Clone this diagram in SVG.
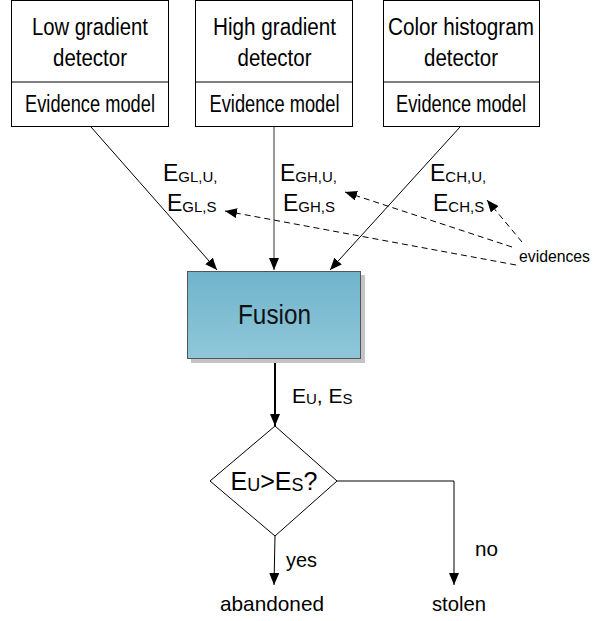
<svg xmlns="http://www.w3.org/2000/svg" width="595" height="621" viewBox="0 0 595 621">
<style>
text{font-family:"Liberation Sans",Arial,sans-serif;fill:#000}
.t{font-size:23px;text-anchor:middle}
.e{font-size:23px}
.s{font-size:15px}
.sm{font-size:21px}
.box{fill:#fff;stroke:#000;stroke-width:1}
.ln{fill:none;stroke:#000;stroke-width:1}
.dash{fill:none;stroke:#000;stroke-width:1;stroke-dasharray:6,4}
</style>
<defs>
<marker id="ah" viewBox="0 0 12 10" refX="12" refY="5" markerWidth="12" markerHeight="10" markerUnits="userSpaceOnUse" orient="auto">
<path d="M0,0 L12,5 L0,10 Z" fill="#000"/>
</marker>
<linearGradient id="fg" x1="0" y1="0" x2="0" y2="1">
<stop offset="0" stop-color="#70b4cb"/>
<stop offset="1" stop-color="#8fc7d9"/>
</linearGradient>
</defs>

<g id="connectors">
<line class="ln" x1="91" y1="127" x2="217" y2="270" marker-end="url(#ah)"/>
<line class="ln" x1="274" y1="127" x2="274" y2="270" style="stroke:#777;stroke-width:1.5" marker-end="url(#ah)"/>
<line class="ln" x1="460" y1="127" x2="330" y2="270" marker-end="url(#ah)"/>
<line class="dash" x1="516" y1="265" x2="225" y2="211" marker-end="url(#ah)"/>
<line class="dash" x1="512" y1="247" x2="345" y2="192" marker-end="url(#ah)"/>
<line class="dash" x1="522" y1="242" x2="487" y2="200" marker-end="url(#ah)"/>
<line class="ln" style="stroke-width:2" x1="275" y1="359" x2="275" y2="426" marker-end="url(#ah)"/>
<line class="ln" x1="275" y1="536" x2="274" y2="585" marker-end="url(#ah)"/>
<polyline class="ln" points="337,481 454,481 454,585" marker-end="url(#ah)"/>
</g>

<g id="low-gradient">
<rect class="box" x="11.5" y="0.5" width="157" height="126"/>
<line class="ln" x1="11.5" y1="82" x2="168.5" y2="82"/>
<text class="t" x="90" y="35" textLength="116" lengthAdjust="spacingAndGlyphs">Low gradient</text>
<text class="t" x="90" y="66" textLength="74" lengthAdjust="spacingAndGlyphs">detector</text>
<text class="t" x="90" y="112" textLength="130" lengthAdjust="spacingAndGlyphs">Evidence model</text>
</g>

<g id="high-gradient">
<rect class="box" x="195.5" y="0.5" width="157" height="126"/>
<line class="ln" x1="195.5" y1="82" x2="352.5" y2="82"/>
<text class="t" x="274.5" y="35" textLength="123" lengthAdjust="spacingAndGlyphs">High gradient</text>
<text class="t" x="274.5" y="66" textLength="74" lengthAdjust="spacingAndGlyphs">detector</text>
<text class="t" x="274.5" y="112" textLength="130" lengthAdjust="spacingAndGlyphs">Evidence model</text>
</g>

<g id="color-histogram">
<rect class="box" x="383.5" y="0.5" width="156" height="126"/>
<line class="ln" x1="383.5" y1="82" x2="539.5" y2="82"/>
<text class="t" x="461" y="35" textLength="146" lengthAdjust="spacingAndGlyphs">Color histogram</text>
<text class="t" x="461" y="66" textLength="74" lengthAdjust="spacingAndGlyphs">detector</text>
<text class="t" x="461" y="112" textLength="130" lengthAdjust="spacingAndGlyphs">Evidence model</text>
</g>

<g id="labels">
<text x="163" y="181"><tspan class="e">E</tspan><tspan class="s" dy="1">GL,U,</tspan></text>
<text x="167" y="211"><tspan class="e">E</tspan><tspan class="s" dy="1">GL,S</tspan></text>
<text x="280" y="181"><tspan class="e">E</tspan><tspan class="s" dy="1">GH,U,</tspan></text>
<text x="283" y="211"><tspan class="e">E</tspan><tspan class="s" dy="1">GH,S</tspan></text>
<text x="430" y="181"><tspan class="e">E</tspan><tspan class="s" dy="1">CH,U,</tspan></text>
<text x="433" y="211"><tspan class="e">E</tspan><tspan class="s" dy="1">CH,S</tspan></text>
<text x="519" y="262" style="font-size:16px" textLength="71" lengthAdjust="spacingAndGlyphs">evidences</text>
<text x="292" y="403"><tspan style="font-size:21px">E</tspan><tspan class="s" dy="1">U</tspan><tspan style="font-size:21px" dy="-1">, E</tspan><tspan class="s" dy="1">S</tspan></text>
<text class="sm" x="286" y="567" textLength="31" lengthAdjust="spacingAndGlyphs">yes</text>
<text class="sm" x="475" y="556" textLength="23" lengthAdjust="spacingAndGlyphs">no</text>
<text class="sm" x="272" y="611" text-anchor="middle" textLength="104" lengthAdjust="spacingAndGlyphs">abandoned</text>
<text class="sm" x="459" y="611" text-anchor="middle" textLength="54" lengthAdjust="spacingAndGlyphs">stolen</text>
</g>

<g id="fusion">
<rect x="191" y="275" width="174" height="88" fill="#c4c4c4"/>
<rect x="187.5" y="271.5" width="173" height="87" fill="url(#fg)" stroke="#555" stroke-width="1"/>
<text x="274.5" y="324" text-anchor="middle" style="font-size:28px;fill:#111" textLength="73" lengthAdjust="spacingAndGlyphs">Fusion</text>
</g>

<g id="decision">
<polygon class="box" points="275,426 337,481 275,536 210,481"/>
<text x="274" y="490" text-anchor="middle"><tspan style="font-size:25px">E</tspan><tspan style="font-size:18px" dy="1">U</tspan><tspan style="font-size:25px" dy="-1">&gt;E</tspan><tspan style="font-size:18px" dy="1">S</tspan><tspan style="font-size:25px" dy="-1">?</tspan></text>
</g>
</svg>
